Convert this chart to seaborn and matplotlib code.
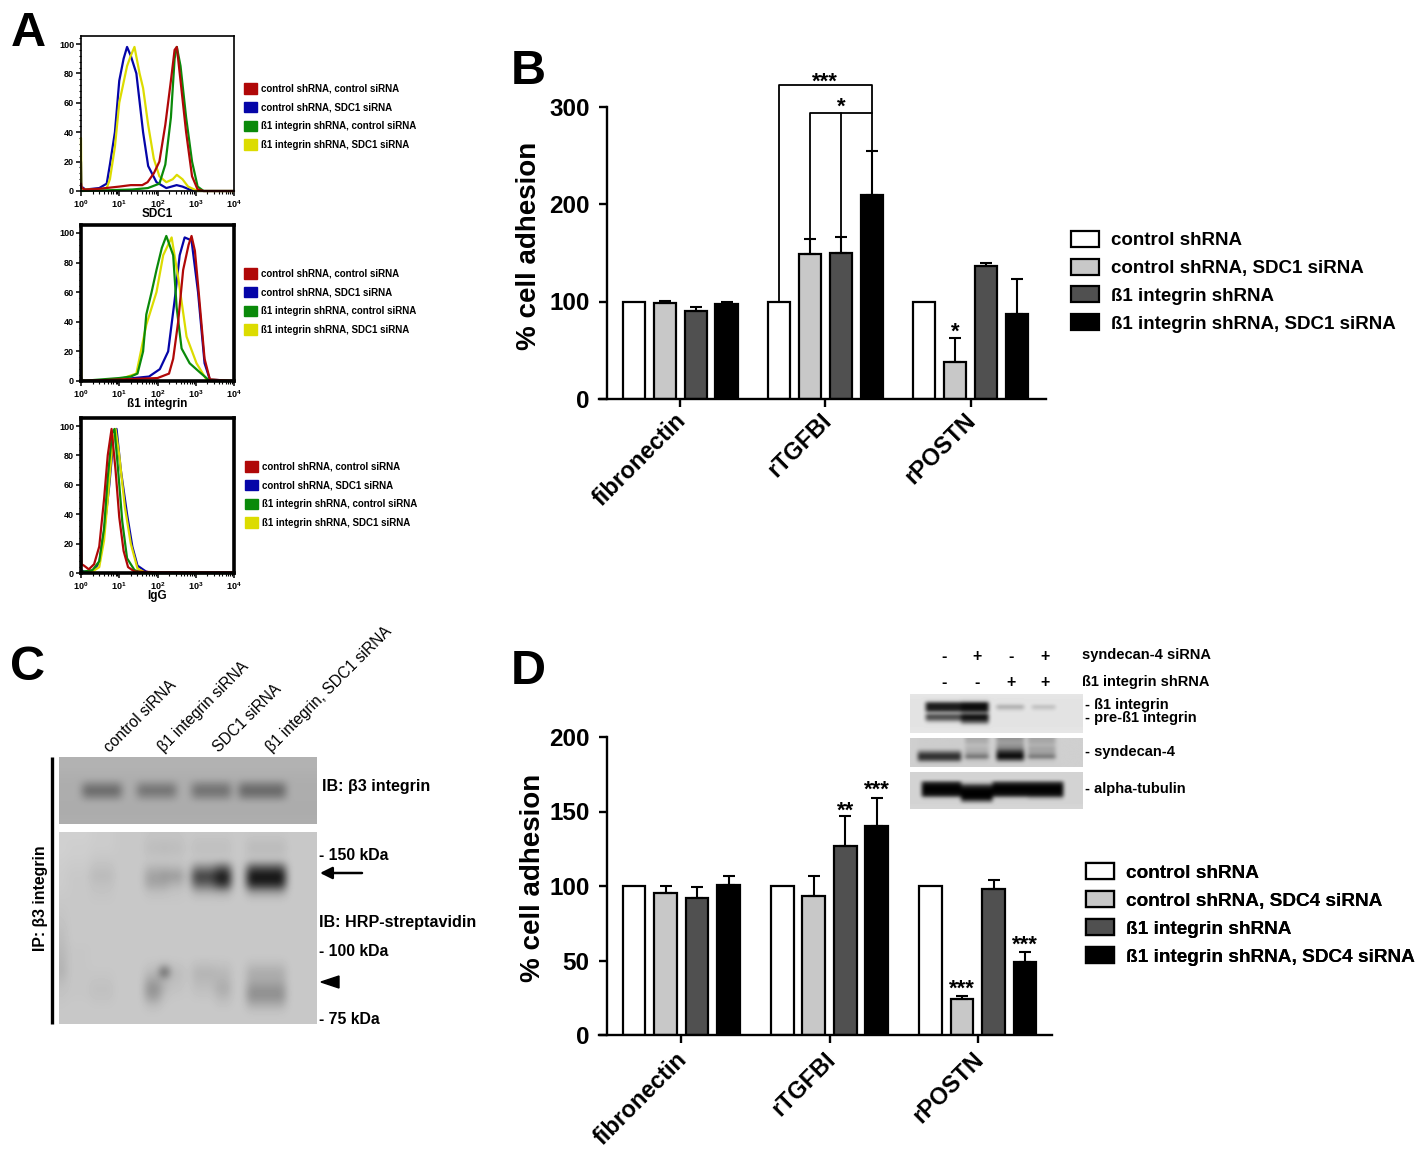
import numpy as np
import matplotlib
matplotlib.use("Agg")
import matplotlib.pyplot as plt
import pandas as pd
import seaborn as sns
from matplotlib.patches import Patch, Polygon
from matplotlib.ticker import LogLocator, NullFormatter, MultipleLocator
from matplotlib.transforms import ScaledTranslation

W, H = 1420, 1155
sns.set_theme(style="white")
plt.rcParams["font.family"] = ["Liberation Sans", "DejaVu Sans"]
plt.rcParams["font.weight"] = "bold"
plt.rcParams["mathtext.fontset"] = "custom"
plt.rcParams["mathtext.rm"] = "Liberation Sans:bold"
plt.rcParams["mathtext.bf"] = "Liberation Sans:bold"
for key in ["text.color", "axes.labelcolor", "xtick.color", "ytick.color", "axes.edgecolor"]:
    plt.rcParams[key] = "black"

# ---------- data ----------
FLOW_NAMES = ["control shRNA, control siRNA", "control shRNA, SDC1 siRNA",
              "ß1 integrin shRNA, control siRNA", "ß1 integrin shRNA, SDC1 siRNA"]
FLOW_COLORS = ["#B00808", "#0505A8", "#0A8A0A", "#DCDC00"]
FLOW_COLORS_ORDERED = ["#0505A8", "#DCDC00", "#0A8A0A", "#B00808"]

sdc1_red_x = [1, 1.03, 1.3, 3, 10, 20, 40, 55, 80, 112, 160, 224, 280, 320, 400, 560, 800, 1120, 1600, 10000]
sdc1_red_y = [5, 2, 1, 1.5, 3, 4, 4, 6, 12, 20, 45, 75, 96, 98, 75, 40, 10, 1, 0, 0]
sdc1_blue_x = [1, 1.03, 1.3, 3, 4.7, 5.7, 7.7, 10, 13, 16, 20, 28, 42, 57, 94, 170, 316, 450, 690, 1100, 10000]
sdc1_blue_y = [20, 3, 1, 2, 5, 18, 40, 75, 90, 98, 92, 80, 40, 17, 6, 2, 4, 3, 1, 0, 0]
sdc1_green_x = [1, 5, 22, 56, 112, 160, 224, 280, 320, 400, 560, 800, 1120, 1600, 10000]
sdc1_green_y = [0, 0.5, 1, 2, 5, 18, 50, 90, 98, 85, 50, 20, 3, 0, 0]
sdc1_yellow_x = [1, 1.02, 1.2, 3, 4.7, 5.7, 7.7, 10, 16, 20, 25, 34, 42, 57, 80, 112, 170, 250, 320, 450, 630, 1120, 10000]
sdc1_yellow_y = [36, 2, 1, 1, 2, 8, 30, 60, 85, 92, 98, 80, 70, 45, 22, 10, 6, 8, 11, 8, 3, 0, 0]

itg_red_x = [1, 100, 200, 257, 347, 468, 650, 776, 950, 1148, 1700, 2340, 10000]
itg_red_y = [0, 2, 5, 15, 40, 75, 92, 98, 88, 65, 15, 1, 0]
itg_blue_x = [1, 1.03, 1.3, 10, 60, 115, 190, 282, 380, 513, 776, 1148, 1700, 2340, 10000]
itg_blue_y = [3, 1, 0, 1, 3, 8, 20, 55, 85, 97, 95, 60, 12, 1, 0]
itg_green_x = [1, 10, 20, 30, 42, 51, 70, 94, 130, 170, 257, 316, 426, 692, 1260, 2340, 10000]
itg_green_y = [0, 2, 3, 5, 20, 45, 60, 75, 90, 98, 85, 50, 22, 12, 6, 0, 0]
itg_yellow_x = [1, 1.02, 1.2, 10, 28, 51, 94, 141, 234, 347, 575, 1047, 1900, 10000]
itg_yellow_y = [48, 1, 0, 1, 5, 38, 60, 85, 97, 70, 30, 12, 1, 0]

igg_red_x = [1, 1.03, 1.2, 1.6, 2.2, 3, 4, 5, 6.3, 8, 10, 13, 17, 25, 100, 10000]
igg_red_y = [30, 6, 5, 2.5, 6, 18, 50, 80, 98, 70, 38, 15, 4, 1, 0.5, 0.5]
igg_blue_x = [1, 1.2, 2, 3, 4, 5.5, 7, 8.5, 11, 16, 22, 30, 50, 70, 10000]
igg_blue_y = [2, 1, 1, 7, 28, 60, 90, 98, 70, 40, 18, 5, 1, 0, 0]
igg_green_x = [1, 1.2, 2, 3, 4, 5, 6.5, 7.5, 9, 12, 16, 25, 40, 10000]
igg_green_y = [1, 1, 2, 8, 30, 65, 95, 98, 75, 35, 10, 2, 0, 0]
igg_yellow_x = [1, 2, 3, 4, 5, 6.5, 8, 10, 14, 20, 30, 50, 10000]
igg_yellow_y = [0, 1, 4, 22, 50, 85, 98, 80, 45, 20, 3, 0, 0]

SUBSTRATES = ["fibronectin", "rTGFBI", "rPOSTN"]
GROUP_B = ["control shRNA", "control shRNA, SDC1 siRNA", "ß1 integrin shRNA", "ß1 integrin shRNA, SDC1 siRNA"]
GROUP_D = ["control shRNA", "control shRNA, SDC4 siRNA", "ß1 integrin shRNA", "ß1 integrin shRNA, SDC4 siRNA"]
BAR_COLORS = ["#FFFFFF", "#C8C8C8", "#505050", "#000000"]
VALUES_B = [[100, 98, 90, 97], [100, 149, 150, 209], [100, 38, 136, 87]]
ERRORS_B = [[0, 3, 4, 2], [0, 15, 16, 45], [0, 25, 4, 36]]
VALUES_D = [[100, 95, 92, 101], [100, 93, 127, 140], [100, 24, 98, 49]]
ERRORS_D = [[0, 5, 7, 6], [0, 14, 20, 19], [0, 2.5, 6, 7]]

# blot grey levels: one tuple per image row, one level per lane
LANES_C_TOP = [(83, 127), (139, 179), (192, 236), (246, 290)]
LEVELS_C_TOP = [(178,) * 4, (178,) * 4, (176,) * 4, (174,) * 4,
                (135, 140, 136, 130), (102, 112, 110, 100), (132, 140, 135, 128),
                (172,) * 4, (172,) * 4, (172,) * 4, (174,) * 4]
LANES_C_LOW = [(59, 70), (70, 92), (92, 115), (145, 164), (164, 172), (172, 185), (197, 218), (218, 238), (250, 288)]
LEVELS_C_LOW = [
 (208, 208, 204, 196, 196, 196, 198, 198, 198),
 (208, 206, 204, 190, 188, 190, 192, 192, 188),
 (208, 206, 202, 190, 188, 190, 192, 192, 188),
 (206, 204, 198, 198, 198, 198, 198, 198, 196),
 (205, 202, 192, 180, 178, 182, 130, 90, 80),
 (204, 200, 186, 160, 150, 155, 60, 20, 12),
 (204, 200, 192, 165, 165, 178, 100, 50, 40),
 (202, 200, 196, 190, 190, 196, 175, 170, 160),
 (200, 200, 198, 198, 198, 198, 198, 198, 198),
 (198, 200, 200, 200, 200, 200, 200, 200, 200),
 (196, 200, 200, 200, 200, 200, 200, 200, 200),
 (194, 200, 200, 200, 200, 200, 200, 200, 200),
 (190, 200, 200, 200, 200, 200, 200, 200, 200),
 (188, 200, 200, 200, 200, 200, 200, 200, 200),
 (185, 198, 200, 200, 200, 200, 200, 200, 200),
 (182, 198, 200, 200, 200, 200, 200, 200, 200),
 (180, 198, 200, 196, 190, 196, 192, 194, 190),
 (178, 198, 198, 185, 70, 188, 180, 184, 172),
 (186, 198, 196, 165, 180, 190, 184, 180, 170),
 (192, 198, 192, 145, 182, 194, 190, 172, 150),
 (196, 198, 194, 155, 192, 198, 196, 182, 142),
 (198, 200, 198, 185, 198, 200, 200, 194, 170),
 (200, 200, 200, 198, 200, 200, 200, 200, 196),
 (200, 200, 200, 200, 200, 200, 200, 200, 200),
]
LANES_D_ITG = [(928, 962), (964, 992), (998, 1025), (1033, 1060)]
LEVELS_D_ITG = [(230,) * 4, (228,) * 4, (215, 205, 228, 228), (40, 20, 222, 226),
                (22, 10, 165, 185), (40, 20, 212, 218), (170, 120, 228, 228),
                (70, 15, 228, 228), (95, 25, 228, 228), (205, 110, 228, 228),
                (228, 215, 228, 228), (228,) * 4, (230,) * 4]
LANES_D_SDC = [(920, 962), (965, 992), (998, 1027), (1032, 1060)]
LEVELS_D_SDC = [(205, 170, 150, 165), (205, 175, 160, 170), (205, 190, 150, 180),
                (205, 180, 130, 165), (150, 175, 70, 165), (70, 150, 25, 150),
                (40, 110, 5, 115), (85, 185, 90, 190), (190, 205, 195, 205), (208,) * 4]
LANES_D_TUB = [(924, 964), (964, 996), (996, 1030), (1030, 1066)]
LEVELS_D_TUB = [(212,) * 4, (212,) * 4, (212,) * 4, (50, 180, 60, 60), (5, 60, 5, 5),
                (0, 10, 0, 0), (5, 0, 5, 5), (30, 0, 30, 25), (190, 10, 190, 170),
                (212, 120, 212, 212), (212,) * 4, (214,) * 4]

# ---------- helpers ----------
fig = plt.figure(figsize=(W / 100, H / 100), dpi=100, facecolor="white")


def axpx(x0, y0, x1, y1, **kw):
    return fig.add_axes([x0 / W, 1 - y1 / H, (x1 - x0) / W, (y1 - y0) / H], **kw)


over = axpx(0, 0, W, H, zorder=20)
over.set_xlim(0, W)
over.set_ylim(H, 0)
over.axis("off")
over.patch.set_alpha(0)


def T(x, y, s, fs, ha="left", va="center", **kw):
    over.text(x, y, s, fontsize=fs, ha=ha, va=va, **kw)


def flow(rect, curves, xlabel, spine_w, legend_x, legend_top):
    ax = axpx(*rect)
    for (cx, cy), col in zip(curves, FLOW_COLORS_ORDERED):
        sns.lineplot(x=cx, y=cy, color=col, lw=1.6, ax=ax, estimator=None, errorbar=None, sort=False, clip_on=False)
    ax.set_xscale("log")
    ax.set_xlim(1, 10000)
    ax.set_ylim(0, 100 * (rect[3] - rect[1]) / (rect[3] - rect[1] - 8))
    ax.set_xticks([1, 10, 100, 1000, 10000])
    ax.set_xticklabels([r"$\mathbf{10^{%d}}$" % i for i in range(5)], fontsize=6.5)
    ax.xaxis.set_minor_locator(LogLocator(base=10, subs=range(2, 10), numticks=10))
    ax.xaxis.set_minor_formatter(NullFormatter())
    ax.yaxis.set_major_locator(MultipleLocator(20))
    ax.yaxis.set_minor_locator(MultipleLocator(4))
    ax.tick_params(axis="both", which="major", direction="out", length=3.5, width=1.1,
                   labelsize=6.5, pad=1.5, bottom=True, left=True)
    ax.tick_params(axis="both", which="minor", direction="out", length=1.8, width=0.8, bottom=True, left=True)
    ax.set_xlabel(xlabel, fontsize=8.5, fontweight="bold", labelpad=-1)
    for s in ax.spines.values():
        s.set_linewidth(spine_w)
    hs = [Patch(facecolor=c, edgecolor=c) for c in FLOW_COLORS]
    lg = over.legend(hs, FLOW_NAMES, loc="upper left", fontsize=7.05, frameon=False,
                     bbox_to_anchor=(legend_x / W, 1 - legend_top / H), bbox_transform=fig.transFigure,
                     borderpad=0, borderaxespad=0, handlelength=1.35, handleheight=1.3,
                     handletextpad=0.42, labelspacing=0.83)
    over.add_artist(lg)
    return ax


def bars(rect, vals, errs, groups, ymax, ticks, xlim, lab_dx, lab_dy):
    ax = axpx(*rect)
    df = pd.DataFrame({"substrate": np.repeat(SUBSTRATES, 4),
                       "group": groups * 3,
                       "value": np.ravel(vals)})
    sns.barplot(data=df, x="substrate", y="value", hue="group", hue_order=groups, order=SUBSTRATES,
                palette=BAR_COLORS, width=0.85, gap=0.28, errorbar=None, edgecolor="black",
                linewidth=1.6, saturation=1, ax=ax, legend=False)
    centers = []
    for j, cont in enumerate(list(ax.containers)):
        row = []
        for i, p in enumerate(cont.patches):
            cx = p.get_x() + p.get_width() / 2
            row.append(cx)
            if errs[i][j] > 0:
                ax.errorbar(cx, vals[i][j], yerr=[[0], [errs[i][j]]], fmt="none", ecolor="black",
                            elinewidth=1.5, capsize=4.2, capthick=1.5, zorder=1)
        centers.append(row)
    ax.set_xlim(*xlim)
    ax.set_ylim(0, ymax)
    ax.set_yticks(ticks)
    ax.spines["top"].set_visible(False)
    ax.spines["right"].set_visible(False)
    ax.spines["left"].set_position(("outward", -5.76))
    ax.spines["bottom"].set_linewidth(1.7)
    ax.spines["left"].set_linewidth(1.7)
    ax.spines["left"].set_bounds(0, ticks[-1])
    ax.tick_params(axis="y", direction="out", length=6, width=1.7, labelsize=17.5, pad=6.5, left=True)
    ax.tick_params(axis="x", direction="out", length=6, width=1.7, labelsize=16.8, pad=2, bottom=True)
    offset = ScaledTranslation(lab_dx / 100, lab_dy / 100, fig.dpi_scale_trans)
    for lab in ax.get_xticklabels():
        lab.set_rotation(45)
        lab.set_ha("right")
        lab.set_va("top")
        lab.set_rotation_mode("anchor")
        lab.set_transform(lab.get_transform() + offset)
    ax.set_xlabel("")
    ax.set_ylabel("")
    return ax, np.array(centers)


def bar_legend(labels, x, top, fs):
    hs = [Patch(facecolor=c, edgecolor="black", linewidth=1.6) for c in BAR_COLORS]
    lg = over.legend(hs, labels, loc="upper left", fontsize=fs, frameon=False,
                     bbox_to_anchor=(x / W, 1 - top / H), bbox_transform=fig.transFigure,
                     borderpad=0, borderaxespad=0, handlelength=1.49, handleheight=0.92,
                     handletextpad=0.64, labelspacing=0.5)
    over.add_artist(lg)


def blot(rect, lanes, levels, bg, col_w):
    ax = axpx(*rect)
    edges = np.arange(rect[0], rect[2], col_w)
    img = np.full((len(levels), len(edges)), float(bg))
    for r, row in enumerate(levels):
        for (a, b), level in zip(lanes, row):
            img[r, (edges + col_w / 2 >= a) & (edges + col_w / 2 < b)] = level
        if len(set(row)) == 1:
            img[r, :] = row[0]
    ax.imshow(img, cmap="gray", vmin=0, vmax=255, aspect="auto", interpolation="bicubic")
    ax.axis("off")
    return ax


def stars(ax, x, y, s, fs=16):
    ax.text(x, y, s, ha="center", va="center", fontsize=fs, clip_on=False, zorder=6)


# ---------- panel A ----------
flow((81, 36, 234, 191), [(sdc1_blue_x, sdc1_blue_y), (sdc1_yellow_x, sdc1_yellow_y),
                          (sdc1_green_x, sdc1_green_y), (sdc1_red_x, sdc1_red_y)], "SDC1", 1.2, 244, 83)
flow((81, 225, 234, 381), [(itg_blue_x, itg_blue_y), (itg_yellow_x, itg_yellow_y),
                           (itg_green_x, itg_green_y), (itg_red_x, itg_red_y)], "ß1 integrin", 2.6, 244, 268)
flow((81, 418, 234, 573), [(igg_blue_x, igg_blue_y), (igg_yellow_x, igg_yellow_y),
                           (igg_green_x, igg_green_y), (igg_red_x, igg_red_y)], "IgG", 2.6, 245, 461)

# ---------- panel B ----------
axB, cB = bars((599, 60, 1046, 399), VALUES_B, ERRORS_B, GROUP_B, 339 / 0.975, [0, 100, 200, 300],
               (-0.56, 2.52), -6, 1)
axB.set_ylabel("% cell adhesion", fontsize=20, fontweight="bold")
axB.yaxis.set_label_coords(-0.127, 0.452, transform=axB.transAxes)
top1, top2 = 322, 293
bracket = dict(color="black", lw=1.3, clip_on=False, zorder=5)
axB.plot([cB[0][1], cB[0][1], cB[3][1], cB[3][1]],
         [VALUES_B[1][0], top1, top1, VALUES_B[1][3] + ERRORS_B[1][3]], **bracket)
axB.plot([cB[1][1], cB[1][1], cB[3][1]], [VALUES_B[1][1] + ERRORS_B[1][1], top2, top2], **bracket)
axB.plot([cB[2][1], cB[2][1]], [top2, VALUES_B[1][2] + ERRORS_B[1][2]], **bracket)
stars(axB, (cB[1][1] + cB[2][1]) / 2, 325, "***")
stars(axB, cB[2][1], 299, "*")
stars(axB, cB[1][2], 68, "*")
bar_legend(GROUP_B, 1071, 231, 13.5)

# ---------- panel D ----------
axD, cD = bars((599, 700, 1052, 1035), VALUES_D, ERRORS_D, GROUP_D, 335 / 1.49, [0, 50, 100, 150, 200],
               (-0.555, 2.5), -6, -2)
axD.set_ylabel("% cell adhesion", fontsize=20, fontweight="bold")
axD.yaxis.set_label_coords(-0.118, 0.47, transform=axD.transAxes)
stars(axD, cD[2][1], 150, "**")
stars(axD, cD[3][1], 164, "***")
stars(axD, cD[1][2], 31, "***")
stars(axD, cD[3][2], 60, "***")
bar_legend(GROUP_D, 1086, 863, 13.65)

# ---------- blots ----------
blot((59, 757, 317, 824), LANES_C_TOP, LEVELS_C_TOP, 173, 8)
blot((59, 832, 317, 1024), LANES_C_LOW, LEVELS_C_LOW, 200, 8)
blot((910, 694, 1083, 733), LANES_D_ITG, LEVELS_D_ITG, 228, 4)
blot((910, 738, 1083, 767), LANES_D_SDC, LEVELS_D_SDC, 208, 4)
blot((910, 772, 1083, 809), LANES_D_TUB, LEVELS_D_TUB, 212, 4)

# ---------- panel C annotations ----------
over.plot([52, 52], [757, 1024], color="black", lw=2.4, solid_capstyle="butt")
T(40, 898, "IP: β3 integrin", 11.4, ha="center", rotation=90)
for x, s in zip([112, 166, 221, 274], ["control siRNA", "β1 integrin siRNA", "SDC1 siRNA", "β1 integrin, SDC1 siRNA"]):
    over.text(x, 755, s, fontsize=11.2, fontweight="normal", rotation=45, ha="left", va="bottom", rotation_mode="anchor")
T(322, 787, "IB: β3 integrin", 11.5)
T(319, 855, "- 150 kDa", 11.4)
T(319, 922, "IB: HRP-streptavidin", 11.6)
T(319, 952, "- 100 kDa", 11.4)
T(319, 1019, "- 75 kDa", 11.4)
over.annotate("", xy=(320, 873), xytext=(362, 873),
              arrowprops=dict(arrowstyle="-|>,head_width=0.3,head_length=0.6", color="black", lw=1.8, shrinkA=0, shrinkB=0))
over.add_patch(Polygon([[321, 982], [339, 976], [339, 988]], closed=True, color="black"))

# ---------- panel D inset labels ----------
for x, a, b in zip([944, 977, 1011, 1045], ["-", "+", "-", "+"], ["-", "-", "+", "+"]):
    T(x, 656, a, 11.5, ha="center")
    T(x, 682, b, 11.5, ha="center")
T(1082, 655, "syndecan-4 siRNA", 10.5)
T(1082, 682, "ß1 integrin shRNA", 10.5)
T(1085, 705, "- ß1 integrin", 10.5)
T(1085, 718, "- pre-ß1 integrin", 10.5)
T(1085, 752, "- syndecan-4", 10.5)
T(1085, 789, "- alpha-tubulin", 10.5)

# ---------- panel letters ----------
T(11, 33, "A", 35)
T(511, 72, "B", 35)
T(10, 668, "C", 35)
T(511, 671, "D", 35)

fig.savefig("out.png", dpi=100, facecolor="white")
